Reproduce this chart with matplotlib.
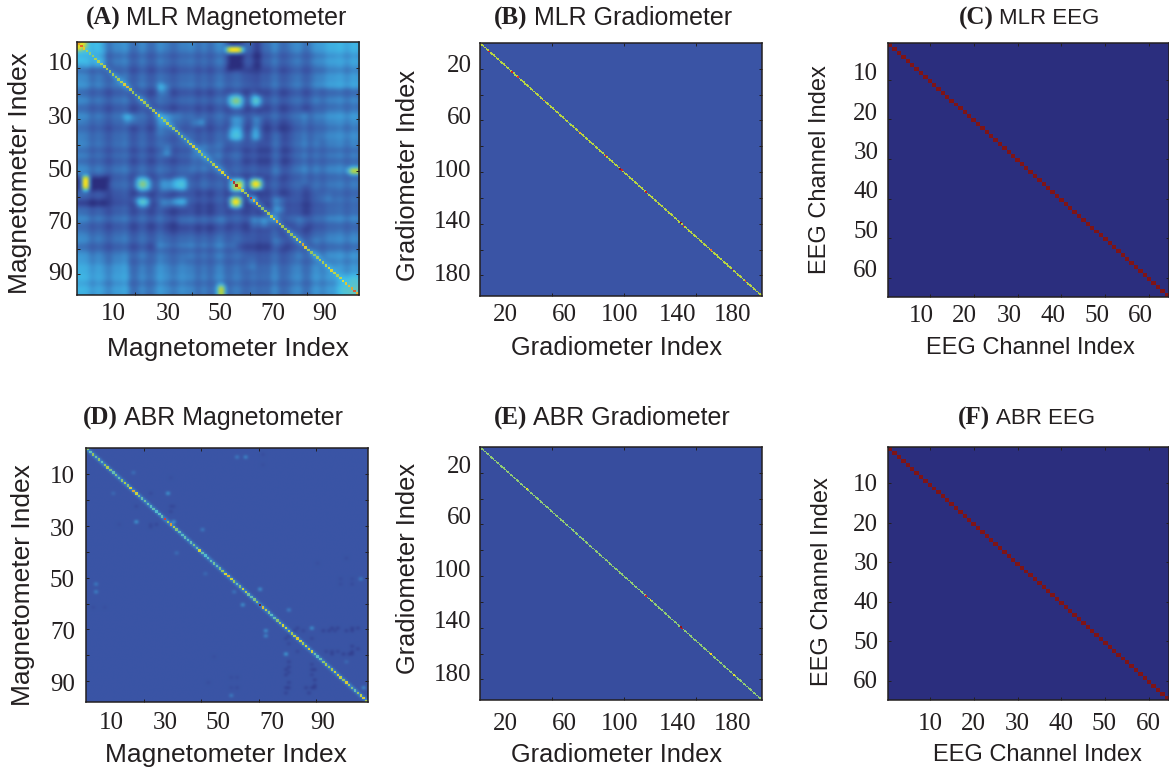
#!/usr/bin/env python3
"""
Channel covariance matrices for MLR and ABR (magnetometer, gradiometer, EEG)
"""

import numpy as np
import matplotlib
matplotlib.use('Agg')
import matplotlib.pyplot as plt
from matplotlib.colors import LinearSegmentedColormap

FIG_W = 1169
FIG_H = 773
INK = '#231f20'

# muted jet, as printed in the original
CMAP = LinearSegmentedColormap.from_list('printed_jet', [
    (0.00, '#2b2e7e'), (0.12, '#3a53a4'), (0.22, '#3a6fb7'), (0.32, '#3d9ad6'),
    (0.42, '#40c0ea'), (0.50, '#6cc6b4'), (0.58, '#a8d04c'), (0.68, '#f5e61e'),
    (0.78, '#f6a21e'), (0.88, '#ed2024'), (1.00, '#7f1416'),
])

# ---- panel A values ----
A_SIZE = 98
A_BASE = 0.04
A_GLOW = 0.46
A_PROFILE = [
    .15, .16, .14, .15, .10, .06, .11, .13, .09, .09,
    .03, .03, .09, .10, .09, .10, .13, .11, .03, .02,
    .02, .08, .10, .09, .03, .01, .02, .06, .11, .10,
    .05, .08, .02, .01, .04, .06, .08, .06, .08, .09,
    .08, .03, .02, .08, .08, .02, .02, .06, .09, .11,
    .09, .03, .02, .04, .06, .08, .05, .02, .00, .01,
    .04, .06, .01, .01, .04, .02, .02, .08, .11, .08,
    .01, .01, .02, .05, .08, .09, .11, .09, .04, .02,
    .05, .10, .13, .13, .09, .08, .13, .14, .13, .14,
    .15, .16, .13, .09, .13, .16, .15, .13,
]
A_DIAG = [
    .78, .84, .72, .60, .56, .58, .60, .62, .60, .64,
    .60, .58, .60, .58, .60, .62, .70, .74, .62, .58,
    .56, .60, .64, .60, .58, .56, .60, .70, .64, .60,
    .58, .62, .58, .56, .60, .58, .56, .58, .60, .64,
    .70, .62, .60, .58, .60, .58, .60, .62, .68, .74,
    .68, .64, .74, .82, .92, .98, .78, .64, .58, .62,
    .90, .74, .70, .60, .56, .58, .60, .64, .70, .74,
    .66, .60, .58, .60, .58, .60, .64, .68, .76, .70,
    .60, .58, .56, .60, .62, .60, .64, .68, .70, .64,
    .60, .64, .68, .72, .74, .78, .84, .76,
]
# i0, i1, j0, j1, delta - mirrored across the diagonal
A_PATCHES = [
    (0, 8, 0, 10, .06), (0, 3, 0, 3, .15), (2, 4, 52, 57, .40), (0, 2, 52, 57, -.12),
    (5, 11, 52, 57, -.12), (0, 18, 60, 63, -.06), (20, 25, 52, 57, .17), (20, 25, 60, 63, .15),
    (33, 38, 52, 57, .13), (33, 38, 60, 63, .11), (42, 47, 52, 57, .05), (53, 58, 21, 26, .17),
    (53, 58, 29, 38, .14), (53, 58, 0, 10, -.10), (61, 64, 0, 10, -.10), (61, 64, 21, 25, .19),
    (61, 64, 29, 38, .14), (53, 58, 53, 58, .20), (55, 57, 55, 57, .22), (60, 64, 53, 57, .27),
    (53, 57, 60, 64, .27), (60, 62, 60, 62, .24), (52, 58, 2, 4, .34), (78, 80, 27, 55, .12),
    (68, 71, 35, 52, .05), (94, 98, 49, 51, .42), (27, 34, 28, 36, .06), (40, 47, 40, 50, .05),
    (17, 21, 28, 32, .10), (90, 98, 92, 98, .08), (68, 72, 60, 66, .12),
    (8, 10, 3, 8, .05), (28, 30, 16, 19, .10), (30, 33, 40, 44, .10), (42, 44, 30, 32, .08),
    (76, 80, 68, 72, .08), (64, 68, 68, 72, .07), (84, 88, 58, 62, .05),
    (84, 98, 0, 18, .05), (84, 98, 25, 38, .04), (30, 50, 63, 75, -.03), (60, 76, 75, 84, -.04),
]

# ---- panel D values ----
D_SIZE = 98
D_BASE = 0.125
D_GLOW = 0.38
D_DIAG = [
    .55, .50, .58, .52, .56, .50, .58, .62, .54, .50,
    .54, .50, .56, .62, .56, .68, .76, .66, .55, .50,
    .52, .50, .48, .50, .46, .48, .50, .86, .58, .78,
    .62, .55, .50, .48, .50, .48, .50, .54, .52, .66,
    .50, .46, .48, .50, .52, .50, .54, .58, .68, .74,
    .66, .58, .50, .56, .66, .62, .52, .50, .54, .58,
    1.0, .72, .64, .54, .48, .50, .56, .60, .68, .66,
    .62, .60, .64, .70, .66, .60, .66, .70, .66, .52,
    .48, .50, .56, .60, .58, .60, .66, .70, .64, .58,
    .70, .60, .54, .50, .58, .64, .70, .60,
]
# row, col, value - mirrored across the diagonal
D_SPOTS = [
    (17.2, 28, .40), (28.3, 17, .40), (28.3, 30, .40), (3, 52, .30), (3, 55, .34),
    (52, 3, .30), (55, 3, .32), (54, 60.5, .38), (60, 54, .38), (70, 62, .38),
    (79, 69, .42), (62, 70, .32), (69.5, 78.5, .38), (92, 96, .36), (50, 95, .30),
    (95, 50, .30), (31, 40, .30), (40, 31, .25), (48, 41, .24), (9, 16, .26),
    (17, 9, .24), (55, 51, .28), (82, 90, .24), (72, 62, .34),
]
D_DARK = [
    (70, 72, .06), (70, 75, .07), (70, 82, .05), (70, 84, .05), (70, 86, .06), (70, 90, .05),
    (70, 92, .05), (73, 69, .06), (73, 78, .07), (78, 83, .06), (79, 85, .05), (79, 89, .04),
    (78, 92, .05), (79, 91, .05), (85, 69, .05), (87, 69, .05), (85, 78, .06), (87, 78, .06),
    (92, 69, .05), (94, 69, .05), (92, 76, .05), (94, 77, .05), (92, 79, .05), (22, 17, .08),
    (22, 30, .08), (29, 22, .08), (29, 24, .07), (29, 11, .10), (61, 2, .09), (61, 6, .10),
    (90, 42, .09), (92, 50, .09), (88, 50, .09), (80, 44, .10), (52, 88, .09), (52, 92, .08),
]

# ---- panels B, E values ----
GRAD_SIZE = 196
B_BASE = 0.125
E_BASE = 0.105
B_DIAG_LEVEL = 0.60
E_DIAG_LEVEL = 0.55
# channel, value
B_DIAG_SPOTS = [(6, .9), (22, .9), (26, .86), (44, .8), (62, .48), (69, .75), (87, .9), (97, .98),
                (98, .9), (115, .92), (139, 1.0), (141, .9), (160, .82), (175, .95), (184, .85)]
E_DIAG_SPOTS = [(32, .68), (62, .46), (68, .42), (115, .9), (118, .7), (139, .98), (140, .92),
                (160, .7), (176, .66)]

# ---- panels C, F values ----
EEG_SIZE = 64
EEG_BASE = 0.0
EEG_DIAG = 1.0

# ---- tick marks and typeset labels of each panel ----
A_XTICKS = [20, 40, 60, 80]
A_YTICKS = [10, 20, 30, 40, 50, 60, 70, 80, 90]
A_XLAB_POS = [12.8, 31.6, 49.6, 68, 86]
A_YLAB_POS = [7.7, 28.4, 49, 69, 89]
D_XLAB_POS = [8.9, 27.7, 46, 64.5, 82.3]
D_YLAB_POS = [10.2, 30.5, 50.4, 70.3, 90.6]
MAG_LABELS = ['10', '30', '50', '70', '90']

GRAD_XTICKS = [50, 100, 150]
GRAD_YTICKS = [20, 40, 60, 80, 100, 120, 140, 160, 180]
B_XLAB_POS = [17.3, 58.9, 97, 137.4, 175.5]
B_YLAB_POS = [15.9, 56.4, 97.4, 136.9, 177.9]
E_YLAB_POS = [13.6, 53.3, 94.4, 134, 175]
GRAD_LABELS = ['20', '60', '100', '140', '180']

EEG_XTICKS = [9.5, 19.5, 29.5, 39.5, 49.5, 59.5]
EEG_YTICKS = [9.2, 19.2, 29.2, 39.2, 49.2, 59.2]
C_XLAB_POS = [7.7, 17.5, 27.7, 37.5, 47.5, 57.5]
C_YLAB_POS = [7.1, 17.2, 27, 37, 46.9, 56.8]
F_XLAB_POS = [9.6, 19.4, 29.4, 39.4, 49.2, 59.2]
F_YLAB_POS = [9, 19, 29, 38.9, 49, 58.8]
EEG_LABELS = ['10', '20', '30', '40', '50', '60']


def soften(m):
    # the print is slightly out of focus
    kernel = np.array([1, 2, 1]) / 4
    padded = np.pad(m, 1, mode='edge')
    out = np.apply_along_axis(lambda r: np.convolve(r, kernel, mode='same'), 0, padded)
    out = np.apply_along_axis(lambda r: np.convolve(r, kernel, mode='same'), 1, out)
    return out[1:-1, 1:-1]


def mag_matrix_a():
    prof = np.array(A_PROFILE)
    m = A_BASE + prof[:, None] + prof[None, :]
    for i0, i1, j0, j1, delta in A_PATCHES:
        m[i0:i1, j0:j1] += delta
        m[j0:j1, i0:i1] += delta
    np.fill_diagonal(m, A_GLOW)
    return soften(m)


def mag_matrix_d():
    m = np.full((D_SIZE, D_SIZE), D_BASE)
    for i, j, v in D_DARK:
        m[int(i), int(j)] = v
        m[int(j), int(i)] = v
    for i, j, v in D_SPOTS:
        m[int(i), int(j)] = v
    np.fill_diagonal(m, D_GLOW)
    return m


def grad_diag(level, spots):
    d = np.full(GRAD_SIZE, level)
    for ch, v in spots:
        d[ch] = v
    return d


def eeg_matrix():
    m = np.full((EEG_SIZE, EEG_SIZE), EEG_BASE)
    np.fill_diagonal(m, EEG_DIAG)
    return m


def put_text(fig, x, y, s, **kw):
    fig.text(x / FIG_W, 1 - y / FIG_H, s, ha='center', va='center', color=INK,
             family='Liberation Sans', **kw)


def draw_panel(fig, box, matrix, interp, xticks, yticks, xlab_pos, ylab_pos, labels, x_pad, y_pad,
               diag=None, diag_size=4.5, diag_alpha=0.85):
    left, right, top, bottom = box
    ax = fig.add_axes([left / FIG_W, 1 - bottom / FIG_H, (right - left) / FIG_W, (bottom - top) / FIG_H])
    n = matrix.shape[0]
    ax.imshow(matrix, cmap=CMAP, vmin=0, vmax=1, interpolation=interp,
              extent=(0, n, n, 0), aspect='auto')
    if diag is not None:
        pos = np.arange(n) + 0.5
        ax.scatter(pos, pos, c=diag, cmap=CMAP, vmin=0, vmax=1, s=diag_size, marker='s',
                   linewidths=0, alpha=diag_alpha)
        ax.set_xlim(0, n)
        ax.set_ylim(n, 0)

    # the printed numbers do not sit on the tick marks
    ax.set_xticks(xlab_pos, labels, family='Liberation Serif', fontsize=18, color=INK)
    ax.set_yticks(ylab_pos, labels, family='Liberation Serif', fontsize=18, color=INK)
    ax.tick_params(which='major', length=0)
    ax.tick_params(axis='x', which='major', pad=x_pad)
    ax.tick_params(axis='y', which='major', pad=y_pad)
    ax.set_xticks(xticks, minor=True)
    ax.set_yticks(yticks, minor=True)
    ax.tick_params(which='minor', direction='in', length=2.5, width=0.7, color=INK,
                   top=True, right=True, labelbottom=False, labelleft=False)
    for spine in ax.spines.values():
        spine.set_linewidth(1.1)
        spine.set_color(INK)
    return ax


def titled(fig, cx, cy, letter, rest, size=18):
    # bold serif letter followed by the sans title, centred together
    renderer = fig.canvas.get_renderer()
    t1 = fig.text(0, 1 - cy / FIG_H, f'({letter})', ha='left', va='center', color=INK,
                  family='Liberation Serif', fontweight='bold', fontsize=18)
    t2 = fig.text(0, 1 - cy / FIG_H, rest, ha='left', va='center', color=INK,
                  family='Liberation Sans', fontsize=size)
    w1 = t1.get_window_extent(renderer).width
    w2 = t2.get_window_extent(renderer).width
    start = cx - (w1 + 6 + w2) / 2
    t1.set_x(start / FIG_W)
    t2.set_x((start + w1 + 6) / FIG_W)


def main():
    fig = plt.figure(figsize=(FIG_W / 100, FIG_H / 100), dpi=100)
    mag_size = 19
    grad_size = 18.3
    eeg_size = 17

    draw_panel(fig, (77, 359, 42, 295), mag_matrix_a(), 'bicubic', A_XTICKS, A_YTICKS,
               A_XLAB_POS, A_YLAB_POS, MAG_LABELS, 6, 3, diag=A_DIAG, diag_size=3.4)
    draw_panel(fig, (480, 762, 43, 296), np.full((GRAD_SIZE, GRAD_SIZE), B_BASE), 'nearest',
               GRAD_XTICKS, GRAD_YTICKS, B_XLAB_POS, B_YLAB_POS, GRAD_LABELS, 6, 6,
               diag=grad_diag(B_DIAG_LEVEL, B_DIAG_SPOTS), diag_size=1.6, diag_alpha=1.0)
    draw_panel(fig, (888, 1169, 43, 297), eeg_matrix(), 'nearest', EEG_XTICKS, EEG_YTICKS,
               C_XLAB_POS, C_YLAB_POS, EEG_LABELS, 6, 7)
    draw_panel(fig, (86, 368, 448, 702), mag_matrix_d(), 'bicubic', A_XTICKS, A_YTICKS,
               D_XLAB_POS, D_YLAB_POS, MAG_LABELS, 7, 8, diag=D_DIAG, diag_size=3.0)
    draw_panel(fig, (480, 762, 447, 700), np.full((GRAD_SIZE, GRAD_SIZE), E_BASE), 'nearest',
               GRAD_XTICKS, GRAD_YTICKS, B_XLAB_POS, E_YLAB_POS, GRAD_LABELS, 9, 6,
               diag=grad_diag(E_DIAG_LEVEL, E_DIAG_SPOTS), diag_size=1.4, diag_alpha=1.0)
    draw_panel(fig, (888, 1169, 447, 700), eeg_matrix(), 'nearest', EEG_XTICKS, EEG_YTICKS,
               F_XLAB_POS, F_YLAB_POS, EEG_LABELS, 9, 7)

    titled(fig, 216, 18, 'A', 'MLR Magnetometer')
    titled(fig, 613, 18, 'B', 'MLR Gradiometer')
    titled(fig, 1029, 18, 'C', 'MLR EEG', size=16)
    titled(fig, 213, 418, 'D', 'ABR Magnetometer')
    titled(fig, 612, 418, 'E', 'ABR Gradiometer')
    titled(fig, 1026, 418, 'F', 'ABR EEG', size=16)

    put_text(fig, 228, 349, 'Magnetometer Index', fontsize=mag_size)
    put_text(fig, 617, 348, 'Gradiometer Index', fontsize=grad_size)
    put_text(fig, 1030, 348, 'EEG Channel Index', fontsize=eeg_size)
    put_text(fig, 226, 755, 'Magnetometer Index', fontsize=mag_size)
    put_text(fig, 617, 755, 'Gradiometer Index', fontsize=grad_size)
    put_text(fig, 1037, 755, 'EEG Channel Index', fontsize=eeg_size)

    put_text(fig, 20, 173, 'Magnetometer Index', rotation=90, fontsize=mag_size)
    put_text(fig, 408, 175, 'Gradiometer Index', rotation=90, fontsize=grad_size)
    put_text(fig, 820, 170, 'EEG Channel Index', rotation=90, fontsize=eeg_size)
    put_text(fig, 23, 585, 'Magnetometer Index', rotation=90, fontsize=mag_size)
    put_text(fig, 408, 568, 'Gradiometer Index', rotation=90, fontsize=grad_size)
    put_text(fig, 822, 582, 'EEG Channel Index', rotation=90, fontsize=eeg_size)

    fig.savefig('out.png', dpi=100)


if __name__ == "__main__":
    main()
